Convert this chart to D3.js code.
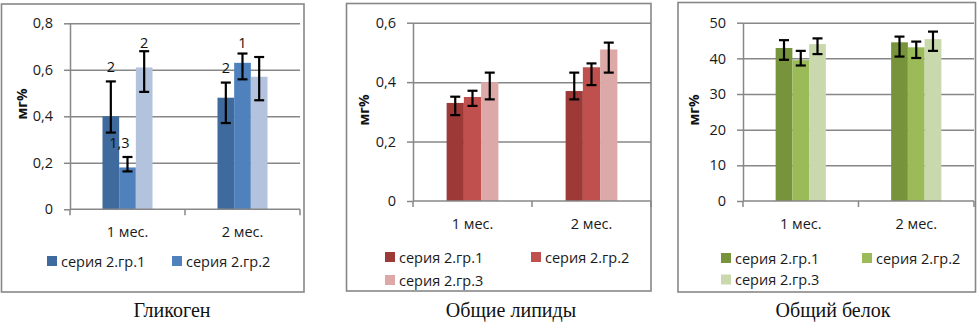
<!DOCTYPE html>
<html><head><meta charset="utf-8">
<script src="https://cdn.jsdelivr.net/npm/d3@7"></script>
<style>
html,body{margin:0;padding:0;background:#fff;}
svg{display:block;font-family:"Open Sans","Noto Sans",sans-serif;}
</style></head><body>
<svg id="chart" width="980" height="330"></svg>
<script>
// Shared categories and series
const categories = ["1 мес.", "2 мес."];
const seriesNames = ["серия 2.гр.1", "серия 2.гр.2", "серия 2.гр.3"];

// Гликоген
const glycogenValues = [[0.40, 0.18, 0.61], [0.48, 0.63, 0.57]];
const glycogenErrHigh = [[0.55, 0.225, 0.68], [0.545, 0.67, 0.655]];
const glycogenErrLow = [[0.33, 0.163, 0.505], [0.371, 0.559, 0.469]];
const glycogenMarks = [["2", "1,3", "2"], ["2", "1", ""]];
const glycogenTicks = [0, 0.2, 0.4, 0.6, 0.8];

// Общие липиды
const lipidValues = [[0.33, 0.35, 0.40], [0.37, 0.45, 0.51]];
const lipidErrHigh = [[0.351, 0.371, 0.432], [0.432, 0.463, 0.533]];
const lipidErrLow = [[0.289, 0.32, 0.342], [0.342, 0.39, 0.432]];
const lipidTicks = [0, 0.2, 0.4, 0.6];

// Общий белок
const proteinValues = [[42.9, 39.5, 44.0], [44.5, 43.1, 45.4]];
const proteinErrHigh = [[45.1, 42.1, 45.6], [46.1, 44.7, 47.5]];
const proteinErrLow = [[39.6, 38.0, 41.2], [40.5, 40.1, 42.1]];
const proteinTicks = [0, 10, 20, 30, 40, 50];

const panelTitles = ["Гликоген", "Общие липиды", "Общий белок"];
const yAxisTitle = "мг%";

// Colours per panel (dark, mid, light)
const blues = ["#3E6A9E", "#4F81BD", "#B3C3DD"];
const reds = ["#9D3A38", "#C0504D", "#DCA9A8"];
const greens = ["#77933C", "#9BBB59", "#CAD8AE"];

const gridColor = "#878787";
const sansFont = "'Open Sans', 'Noto Sans', sans-serif";
const serifFont = "'Liberation Serif', 'Times New Roman', serif";

const panels = [
  {
    values: glycogenValues, hi: glycogenErrHigh, lo: glycogenErrLow, ticks: glycogenTicks,
    marks: glycogenMarks,
    markNudge: [[[0, 9.5], [-8, 8.7], [0, 3.7]], [[0, 9.3], [0, 5.3], [0, 0]]],
    title: panelTitles[0], palette: blues,
    frame: [1.5, 4, 304, 292], plot: [70, 300, 23.3, 209.3],
    legendSeries: [0, 1], legendPos: [[47, 261], [172, 261]],
    titleX: 172, yTitle: [21, 104], catY: 237
  },
  {
    values: lipidValues, hi: lipidErrHigh, lo: lipidErrLow, ticks: lipidTicks,
    title: panelTitles[1], palette: reds,
    frame: [346.5, 3.5, 651, 291], plot: [413, 651, 22.7, 201],
    legendSeries: [0, 1, 2], legendPos: [[385, 257], [531, 257], [385, 280]],
    titleX: 511, yTitle: [363, 110], catY: 229
  },
  {
    values: proteinValues, hi: proteinErrHigh, lo: proteinErrLow, ticks: proteinTicks,
    title: panelTitles[2], palette: greens,
    frame: [678, 2.5, 975.5, 292], plot: [743, 974, 22.7, 201],
    legendSeries: [0, 1, 2], legendPos: [[721, 258], [862, 258], [721, 279.5]],
    titleX: 833, yTitle: [693, 110], catY: 229
  }
];

const svg = d3.select("#chart");
const fmt = v => String(v).replace(".", ",");

panels.forEach(p => {
  const g = svg.append("g");
  const [fx0, fy0, fx1, fy1] = p.frame;
  const [left, right, top, bottom] = p.plot;

  // chart frame
  g.append("rect")
    .attr("x", fx0).attr("y", fy0)
    .attr("width", fx1 - fx0).attr("height", fy1 - fy0)
    .attr("fill", "#fff").attr("stroke", gridColor).attr("stroke-width", 1.6);

  const y = d3.scaleLinear()
    .domain([0, d3.max(p.ticks)])
    .range([bottom, top]);
  const x0 = d3.scaleBand().domain(categories).range([left, right]).padding(0);
  const bw = x0.bandwidth();
  const x1 = d3.scaleBand().domain(d3.range(3)).range([bw * 0.2825, bw * 0.7175]).padding(0);

  // horizontal gridlines
  g.append("g")
    .attr("transform", `translate(${left},0)`)
    .call(d3.axisLeft(y).tickValues(p.ticks.filter(t => t > 0)).tickSize(-(right - left)).tickFormat(""))
    .call(s => s.select(".domain").remove())
    .call(s => s.selectAll("line").attr("stroke", gridColor).attr("stroke-width", 1.5));

  // bars
  categories.forEach((c, ci) => {
    const cg = g.append("g").attr("transform", `translate(${x0(c)},0)`);
    cg.selectAll("rect.bar")
      .data(p.values[ci])
      .join("rect")
      .attr("class", "bar")
      .attr("x", (d, i) => x1(i))
      .attr("width", x1.bandwidth())
      .attr("y", d => y(d))
      .attr("height", d => y(0) - y(d))
      .attr("fill", (d, i) => p.palette[i]);
  });

  // y axis
  g.append("g")
    .attr("transform", `translate(${left},0)`)
    .call(d3.axisLeft(y).tickValues(p.ticks).tickSize(6).tickSizeOuter(0).tickPadding(11).tickFormat(fmt))
    .call(s => s.select(".domain").attr("stroke", gridColor).attr("stroke-width", 1.5))
    .call(s => s.selectAll(".tick line").attr("stroke", gridColor).attr("stroke-width", 1.5))
    .call(s => s.selectAll(".tick text")
      .attr("font-family", sansFont)
      .attr("font-size", 14.5).attr("fill", "#1a1a1a"));

  // x axis with ticks at category boundaries
  const xa = g.append("g").attr("transform", `translate(0,${y(0)})`);
  xa.append("line")
    .attr("x1", left).attr("x2", right)
    .attr("stroke", gridColor).attr("stroke-width", 1.5);
  const bounds = categories.map(c => x0(c)).concat([x0(categories[categories.length - 1]) + bw]);
  xa.selectAll("line.bt").data(bounds).join("line")
    .attr("class", "bt")
    .attr("x1", d => d).attr("x2", d => d).attr("y1", 0).attr("y2", 6)
    .attr("stroke", gridColor).attr("stroke-width", 1.5);
  g.selectAll("text.cat").data(categories).join("text")
    .attr("class", "cat")
    .attr("x", d => x0(d) + bw / 2).attr("y", p.catY)
    .attr("text-anchor", "middle").attr("font-size", 14.5).attr("fill", "#1a1a1a")
    .text(d => d);

  // error bars
  categories.forEach((c, ci) => {
    p.values[ci].forEach((v, si) => {
      const cx = x0(c) + x1(si) + x1.bandwidth() / 2;
      const yh = y(p.hi[ci][si]), yl = y(p.lo[ci][si]);
      const eg = g.append("g").attr("stroke", "#000").attr("stroke-width", 2.2);
      eg.append("line").attr("x1", cx).attr("x2", cx).attr("y1", yh).attr("y2", yl);
      eg.append("line").attr("x1", cx - 5).attr("x2", cx + 5).attr("y1", yh).attr("y2", yh);
      eg.append("line").attr("x1", cx - 5).attr("x2", cx + 5).attr("y1", yl).attr("y2", yl);

      if (p.marks && p.marks[ci][si]) {
        const [dx, dy] = p.markNudge[ci][si];
        g.append("text")
          .attr("x", cx + dx).attr("y", yh - dy)
          .attr("text-anchor", "middle").attr("font-size", 14.5).attr("fill", "#111")
          .text(p.marks[ci][si]);
      }
    });
  });

  // y axis title
  g.append("text")
    .attr("transform", `translate(${p.yTitle[0]},${p.yTitle[1]}) rotate(-90)`)
    .attr("text-anchor", "middle").attr("dominant-baseline", "central")
    .attr("font-size", 14).attr("font-weight", "bold").attr("fill", "#111")
    .text(yAxisTitle);

  // legend
  p.legendSeries.forEach((si, k) => {
    const [lx, ly] = p.legendPos[k];
    g.append("rect")
      .attr("x", lx).attr("y", ly - 5).attr("width", 10).attr("height", 10)
      .attr("fill", p.palette[si]);
    g.append("text")
      .attr("x", lx + 14).attr("y", ly).attr("dominant-baseline", "central")
      .attr("font-size", 14.5).attr("fill", "#1a1a1a")
      .text(seriesNames[si]);
  });

  // panel caption
  svg.append("text")
    .attr("x", p.titleX).attr("y", 317)
    .attr("text-anchor", "middle")
    .style("font-family", serifFont)
    .attr("font-size", 20).attr("fill", "#111")
    .text(p.title);
});
</script>
</body></html>
